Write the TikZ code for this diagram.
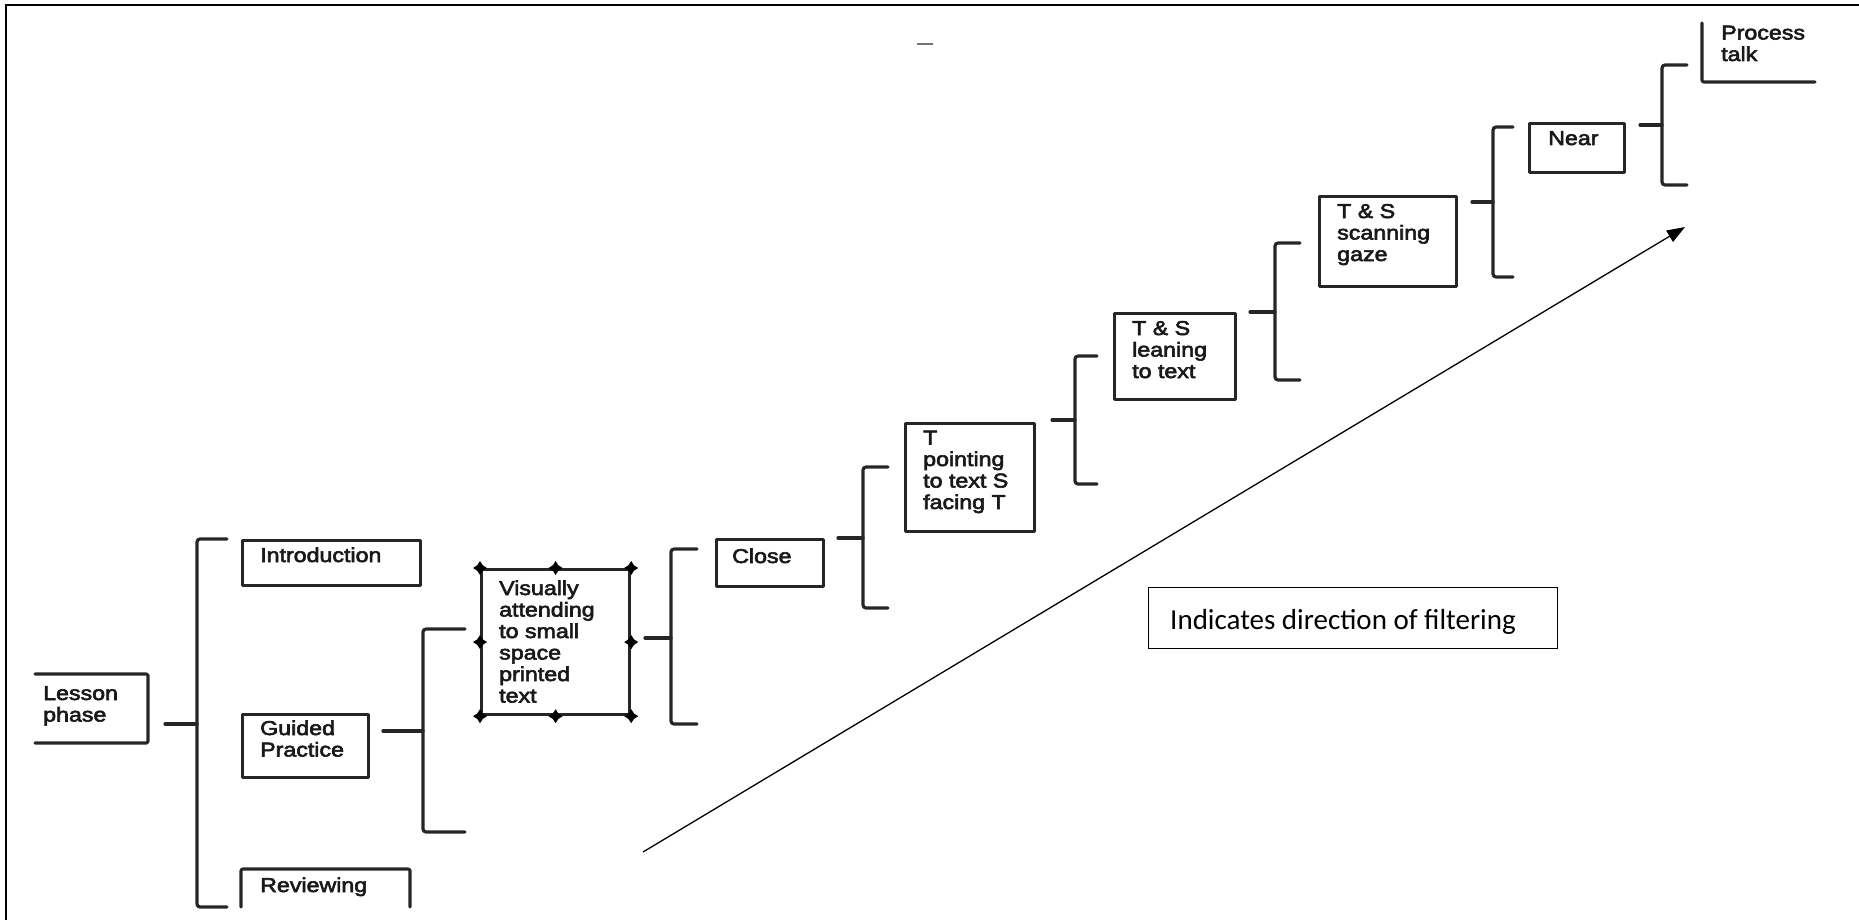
\documentclass[tikz,border=0pt]{standalone}
\usepackage{fontspec}
\usetikzlibrary{arrows.meta,shapes.geometric}
\newfontfamily\diagfont[FakeStretch=1.16,FakeBold=3]{Liberation Sans}
\newfontfamily\notefont{Carlito}
\begin{document}
\begin{tikzpicture}[x=1pt,y=-1pt,
  ln/.style={line width=3.2pt, draw=black!85, line join=round, line cap=round},
  boxn/.style={ln, rectangle, anchor=north west, inner sep=0pt},
  lbl/.style={anchor=base west, inner sep=0pt, align=left, font=\diagfont\fontsize{20}{21.5}\selectfont, text=black!90},
  brk/.style={ln, rounded corners=3pt},
  hdl/.style={star, star points=4, star point ratio=1.8, minimum size=14pt, inner sep=0pt, fill=black},
]
\useasboundingbox (0,0) rectangle (1859,920);

% frame
\coordinate (fBL) at (6,920);
\coordinate (fTL) at (6,5);
\coordinate (fTR) at (1859,5);
\draw[line width=2.2pt] (fBL) -- (fTL) -- (fTR);
\coordinate (dA) at (917,44);
\coordinate (dB) at (933,44);
\draw[line width=2pt, black!55] (dA) -- (dB);

% open boxes
\coordinate (lsA) at (35,674);
\coordinate (lsB) at (148,674);
\coordinate (lsC) at (148,743);
\coordinate (lsD) at (35,743);
\draw[ln, rounded corners=2pt] (lsA) -- (lsB) -- (lsC) -- (lsD);
\coordinate (rvA) at (241,907);
\coordinate (rvB) at (241,869);
\coordinate (rvC) at (410,869);
\coordinate (rvD) at (410,907);
\draw[ln, rounded corners=2pt] (rvA) -- (rvB) -- (rvC) -- (rvD);
\coordinate (ptA) at (1702,23);
\coordinate (ptB) at (1702,82);
\coordinate (ptC) at (1815,82);
\draw[ln, rounded corners=2pt] (ptA) -- (ptB) -- (ptC);

% closed boxes
\node[boxn, minimum width=178pt, minimum height=45pt] (intro) at (241,539) {};
\node[boxn, minimum width=126pt, minimum height=63pt] (guided) at (241,713) {};
\node[boxn, minimum width=148pt, minimum height=145pt] (vis) at (480,568) {};
\node[boxn, minimum width=107pt, minimum height=47pt] (close) at (715,538) {};
\node[boxn, minimum width=129pt, minimum height=108pt] (tpoint) at (904,422) {};
\node[boxn, minimum width=121pt, minimum height=86pt] (lean) at (1113,312) {};
\node[boxn, minimum width=137pt, minimum height=90pt] (scan) at (1318,195) {};
\node[boxn, minimum width=95pt, minimum height=49pt] (near) at (1528,122) {};
\node[draw, line width=1.3pt, rectangle, anchor=north west, inner sep=0pt, minimum width=409pt, minimum height=61pt] (ind) at (1148,587) {};

% handles
\foreach \a/\n in {north west/1, north/2, north east/3, west/4, east/5, south west/6, south/7, south east/8}
  \node[hdl] (h\n) at (vis.\a) {};

% labels (anchored at the baseline of the last line)
\node[lbl] (lessonT) at (43,721.5) {Lesson\\phase};
\node[lbl] (introT) at (260,562) {Introduction};
\node[lbl] (guidedT) at (260,756.5) {Guided\\Practice};
\node[lbl] (revT) at (260,892) {Reviewing};
\node[lbl] (visT) at (499,702.5) {Visually\\attending\\to small\\space\\printed\\text};
\node[lbl] (closeT) at (732,563) {Close};
\node[lbl] (tpT) at (923,509) {T\\pointing\\to text S\\facing T};
\node[lbl] (leanT) at (1132,378) {T \& S\\leaning\\to text};
\node[lbl] (scanT) at (1337,261) {T \& S\\scanning\\gaze};
\node[lbl] (nearT) at (1548,145) {Near};
\node[lbl] (procT) at (1721,61) {Process\\talk};
\node[anchor=base west, inner sep=0pt, font=\notefont\fontsize{29}{34}\selectfont] (indT) at (1170,629) {Indicates direction of filtering};

% brackets
\foreach \i/\sx/\sy/\bx/\tp/\bt/\ex in {
  1/165/724/197/539/907/227,
  2/383/731/423/629/832/465,
  3/645/638/671/549/724/697,
  4/838/538/863/467/608/888,
  5/1052/420/1075/356/484/1097,
  6/1250/312/1275/243/380/1300,
  7/1472/202/1493/127/277/1513,
  8/1640/125/1662/65/185/1687}{
  \coordinate (s\i) at (\sx,\sy);
  \coordinate (m\i) at (\bx,\sy);
  \coordinate (t\i) at (\ex,\tp);
  \coordinate (u\i) at (\ex,\bt);
  \draw[ln] (s\i) -- (m\i);
  \draw[brk] (t\i) -- (\bx,\tp) -- (\bx,\bt) -- (u\i);
}

% arrow
\coordinate (arS) at (643,852);
\coordinate (arE) at (1685,227);
\draw[line width=1.3pt, -{Triangle[length=18pt,width=13pt]}] (arS) -- (arE);
\end{tikzpicture}
\end{document}
